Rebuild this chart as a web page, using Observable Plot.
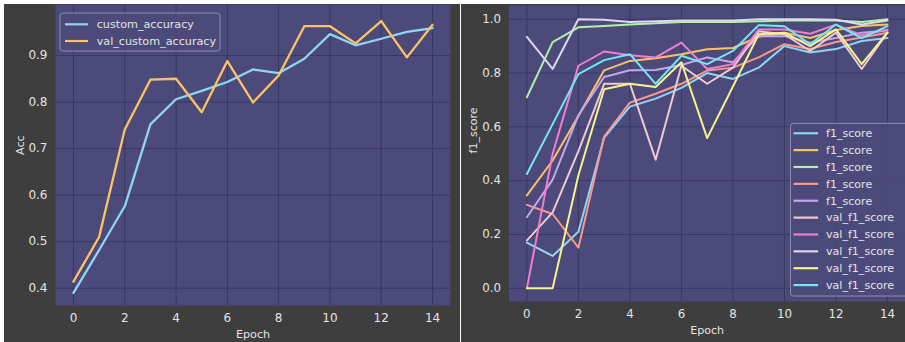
<!DOCTYPE html>
<html><head><meta charset="utf-8">
<script src="https://cdn.jsdelivr.net/npm/d3@7"></script>
<script src="https://cdn.jsdelivr.net/npm/@observablehq/plot@0.6"></script>
<style>
html,body{margin:0;padding:0;background:#fff;width:905px;height:342px;overflow:hidden;}
#left{position:absolute;left:4px;top:4px;width:456px;height:338px;background:#3e3e3e;overflow:hidden;}
#right{position:absolute;left:461px;top:4px;width:444px;height:338px;background:#3e3e3e;overflow:hidden;}
svg{display:block}
</style></head><body>
<div id="left"></div><div id="right"></div>
<script>
// ---------- data ----------
const epochs = [0,1,2,3,4,5,6,7,8,9,10,11,12,13,14];
const xTicks = [0,2,4,6,8,10,12,14];
const accTicks = [0.4,0.5,0.6,0.7,0.8,0.9];
const f1Ticks = [0.0,0.2,0.4,0.6,0.8,1.0];

const accNames = ["custom_accuracy", "val_custom_accuracy"];
const customAccuracy    = [0.390,0.482,0.576,0.752,0.806,0.824,0.843,0.870,0.862,0.893,0.946,0.922,0.936,0.951,0.959];
const valCustomAccuracy = [0.414,0.510,0.741,0.848,0.850,0.778,0.888,0.799,0.857,0.963,0.963,0.926,0.974,0.896,0.966];

const f1Names = ["f1_score","f1_score","f1_score","f1_score","f1_score",
                 "val_f1_score","val_f1_score","val_f1_score","val_f1_score","val_f1_score"];
const f1Score1 = [0.170,0.120,0.210,0.560,0.675,0.705,0.745,0.800,0.778,0.820,0.900,0.876,0.889,0.919,0.930];
const f1Score2 = [0.345,0.475,0.640,0.810,0.845,0.855,0.870,0.888,0.893,0.935,0.950,0.930,0.960,0.975,0.980];
const f1Score3 = [0.710,0.915,0.970,0.975,0.980,0.985,0.990,0.990,0.990,0.992,0.995,0.995,0.995,0.990,1.000];
const f1Score4 = [0.310,0.276,0.151,0.564,0.690,0.723,0.760,0.809,0.820,0.858,0.907,0.889,0.915,0.932,0.950];
const f1Score5 = [0.264,0.404,0.643,0.785,0.810,0.811,0.830,0.858,0.840,0.937,0.937,0.913,0.930,0.950,0.958];
const valF1Score1 = [0.178,0.282,0.510,0.760,0.760,0.478,0.827,0.760,0.820,0.955,0.944,0.882,0.950,0.815,0.950];
const valF1Score2 = [0.000,0.500,0.827,0.880,0.866,0.858,0.913,0.815,0.833,0.962,0.962,0.946,0.980,0.940,0.962];
const valF1Score3 = [0.934,0.815,1.000,0.998,0.990,0.992,0.995,0.995,0.995,1.000,1.000,1.000,0.998,0.980,0.995];
const valF1Score4 = [0.000,0.000,0.420,0.740,0.760,0.748,0.840,0.558,0.750,0.944,0.950,0.900,0.962,0.833,0.950];
const valF1Score5 = [0.425,0.610,0.796,0.848,0.870,0.760,0.864,0.833,0.882,0.978,0.974,0.907,0.980,0.930,0.974];

// ---------- styles ----------
const PURPLE = "#4c4a7b";
const GRID = "#393860";
const TEXT = "#e4e4e4";
const accColors = ["#8fd5f5", "#fcc366"];
const f1Colors = ["#8fd5f5","#fcc366","#b3f0a6","#f8998c","#c7a6ee",
                  "#f2cbd2","#f07fcf","#dcdaf0","#f8f58c","#74e6f6"];

// ---------- tables ----------
const accSeries = [customAccuracy, valCustomAccuracy];
const accData = accSeries.flatMap((vals, i) =>
  epochs.map((e, j) => ({epoch: e, value: vals[j], key: "s" + i})));
const f1Series = [f1Score1,f1Score2,f1Score3,f1Score4,f1Score5,
                  valF1Score1,valF1Score2,valF1Score3,valF1Score4,valF1Score5];
const f1Data = f1Series.flatMap((vals, i) =>
  epochs.map((e, j) => ({epoch: e, value: vals[j], key: "s" + i})));

const baseStyle = {fontFamily: "DejaVu Sans, sans-serif", fontSize: "12px", background: "transparent", overflow: "visible"};

function legend(svg, x0, y0, w, h, rows, colors, lineX0, lineX1, textX, rowY0, dy) {
  const g = d3.select(svg).append("g").attr("text-anchor", "start");
  g.append("rect").attr("x", x0).attr("y", y0).attr("width", w).attr("height", h)
    .attr("rx", 3).attr("fill", PURPLE).attr("fill-opacity", 0.85)
    .attr("stroke", "#8f8dae").attr("stroke-width", 1);
  rows.forEach((name, i) => {
    const y = rowY0 + i * dy;
    g.append("line").attr("x1", lineX0).attr("x2", lineX1).attr("y1", y).attr("y2", y)
      .attr("stroke", colors[i]).attr("stroke-width", 2.2);
    g.append("text").attr("x", textX).attr("y", y).attr("dy", "0.35em")
      .attr("text-anchor", "start")
      .attr("fill", TEXT).attr("font-size", 11.2).attr("font-family", "DejaVu Sans, sans-serif")
      .text(name);
  });
}

// ---------- left chart ----------
const left = Plot.plot({
  width: 446, height: 338,
  marginLeft: 51, marginRight: 0, marginTop: 0, marginBottom: 37,
  style: baseStyle,
  x: {domain: [-0.7, 14.7]},
  y: {domain: [0.3628, 1.0096]},
  color: {domain: ["s0","s1"], range: accColors},
  marks: [
    Plot.frame({fill: PURPLE, stroke: "none"}),
    Plot.gridX(xTicks, {stroke: GRID, strokeOpacity: 1}),
    Plot.gridY(accTicks, {stroke: GRID, strokeOpacity: 1}),
    Plot.line(accData, {x: "epoch", y: "value", z: "key", stroke: "key", strokeWidth: 2.3}),
    Plot.axisX(xTicks, {tickSize: 0, tickPadding: 8, fill: TEXT, fontSize: 12, label: null}),
    Plot.axisY(accTicks, {tickSize: 0, tickPadding: 8, fill: TEXT, fontSize: 12, label: null, tickFormat: d3.format(".1f")}),
    Plot.text(["Epoch"], {frameAnchor: "bottom", dy: 32, fill: TEXT, fontSize: 11.2}),
    Plot.text(["Acc"], {frameAnchor: "left", dx: -35, rotate: -90, fill: TEXT, fontSize: 11.2})
  ]
});
legend(left, 56, 9, 160, 38, accNames, accColors, 61, 84, 92.7, 20.3, 16.7);
document.getElementById("left").appendChild(left);

// ---------- right chart ----------
const right = Plot.plot({
  width: 450, height: 338,
  marginLeft: 48, marginRight: 0, marginTop: 1, marginBottom: 37,
  style: baseStyle,
  x: {domain: [-0.7, 14.7]},
  y: {domain: [-0.049, 1.051]},
  color: {domain: f1Series.map((d, i) => "s" + i), range: f1Colors},
  marks: [
    Plot.frame({fill: PURPLE, stroke: "none"}),
    Plot.gridX(xTicks, {stroke: GRID, strokeOpacity: 1}),
    Plot.gridY(f1Ticks, {stroke: GRID, strokeOpacity: 1}),
    Plot.line(f1Data, {x: "epoch", y: "value", z: "key", stroke: "key", strokeWidth: 2}),
    Plot.axisX(xTicks, {tickSize: 0, tickPadding: 8, fill: TEXT, fontSize: 12, label: null}),
    Plot.axisY(f1Ticks, {tickSize: 0, tickPadding: 8, fill: TEXT, fontSize: 12, label: null, tickFormat: d3.format(".1f")}),
    Plot.text(["Epoch"], {frameAnchor: "bottom", dy: 33, fill: TEXT, fontSize: 11.2}),
    Plot.text(["f1_score"], {frameAnchor: "left", dx: -36, rotate: -90, fill: TEXT, fontSize: 11.2})
  ]
});
legend(right, 334, 121, 130, 175, f1Names, f1Colors, 337, 362, 370, 131, 17.1);
document.getElementById("right").appendChild(right);
</script>
</body></html>
